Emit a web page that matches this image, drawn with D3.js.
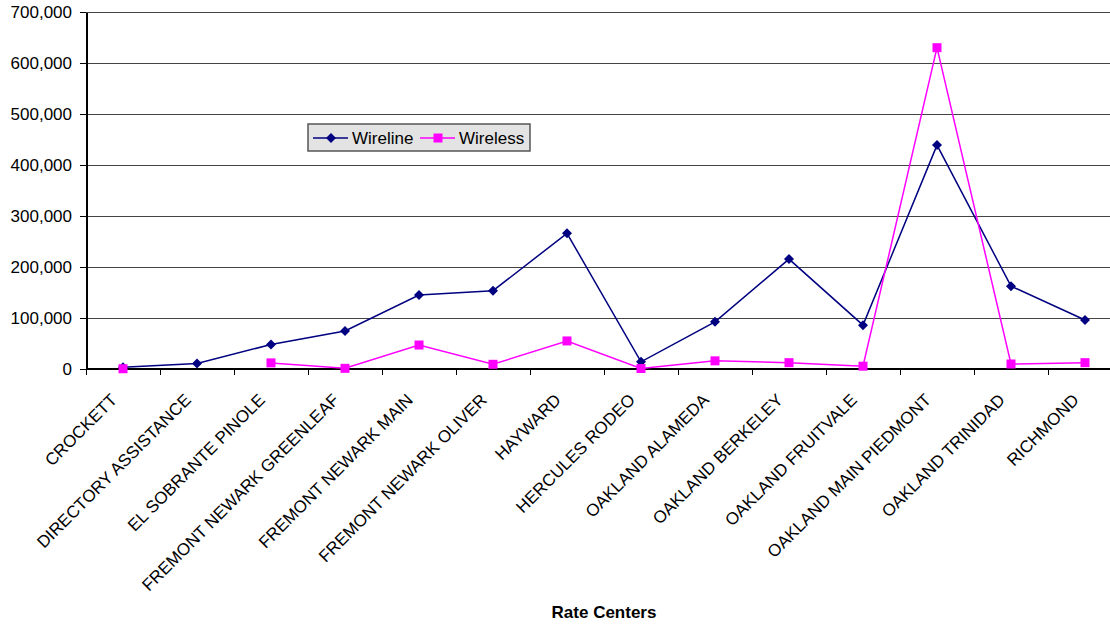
<!DOCTYPE html>
<meta charset="utf-8">
<style>
body { margin: 0; background: #fff; }
text { font-family: Arial, "Liberation Sans", sans-serif; fill: #000; }
.grid line { stroke: #444; stroke-width: 1px; shape-rendering: crispEdges; }
.axis path, .axis line { stroke: #000; shape-rendering: crispEdges; }
.wireline { fill: none; stroke: #000080; stroke-width: 1.5px; }
.wireless { fill: none; stroke: #ff00ff; stroke-width: 1.5px; }
</style>
<body>
<script src="https://d3js.org/d3.v7.min.js"></script>
<script>

// rate centers along the x axis
var centers = ["CROCKETT", "DIRECTORY ASSISTANCE", "EL SOBRANTE PINOLE",
  "FREMONT NEWARK GREENLEAF", "FREMONT NEWARK MAIN", "FREMONT NEWARK OLIVER",
  "HAYWARD", "HERCULES RODEO", "OAKLAND ALAMEDA", "OAKLAND BERKELEY",
  "OAKLAND FRUITVALE", "OAKLAND MAIN PIEDMONT", "OAKLAND TRINIDAD", "RICHMOND"];

// values
var wireline = [3300, 11000, 48000, 74500, 145000, 153500, 266000, 14000,
  92500, 215500, 86000, 439000, 162500, 96000];
var wireless = [500, null, 12000, 1300, 47000, 9200, 55000, 1000,
  16000, 12400, 5500, 630000, 9800, 12400];

var yTicks = [0, 100000, 200000, 300000, 400000, 500000, 600000, 700000];

var margin = {top: 12, left: 86},
    width = 74 * centers.length,   // plot runs past the right edge, as in the original
    height = 357;

var svg = d3.select("body").append("svg")
    .attr("width", 1110)
    .attr("height", 624)
  .append("g")
    .attr("transform", "translate(" + margin.left + "," + margin.top + ")");

var x = d3.scaleBand().domain(centers).range([0, width]);
var y = d3.scaleLinear().domain([0, 700000]).range([height, 0]);

function cx(i) { return x(centers[i]) + x.bandwidth() / 2; }

// horizontal gridlines
svg.append("g")
    .attr("class", "grid")
  .selectAll("line")
  .data(yTicks)
  .enter().append("line")
    .attr("x1", 0)
    .attr("x2", width)
    .attr("y1", function(d) { return y(d); })
    .attr("y2", function(d) { return y(d); });

// Y axis
var yAxis = svg.append("g")
    .attr("class", "axis")
    .call(d3.axisLeft(y).tickValues(yTicks).tickSize(6).tickSizeOuter(0)
      .tickFormat(d3.format(",")));
yAxis.select(".domain").attr("stroke-width", 2);
yAxis.selectAll("text")
    .attr("x", -14)
    .style("font-size", "17px")
    .style("font-family", "Arial, 'Liberation Sans', sans-serif");

// X axis line and the ticks between categories
var xAxis = svg.append("g").attr("class", "axis");
xAxis.append("line")
    .attr("x1", 0).attr("x2", width)
    .attr("y1", height).attr("y2", height)
    .attr("stroke-width", 2.5);
xAxis.selectAll(".tick")
  .data(centers)
  .enter().append("line")
    .attr("class", "tick")
    .attr("x1", function(d) { return x(d); })
    .attr("x2", function(d) { return x(d); })
    .attr("y1", height)
    .attr("y2", height + 6);

// rotated category labels
svg.append("g").selectAll("text")
  .data(centers)
  .enter().append("text")
    .attr("transform", function(d) {
      return "translate(" + (x(d) + x.bandwidth() / 2 - 5) + "," + (height + 32) + ") rotate(-45)";
    })
    .attr("text-anchor", "end")
    .style("font-size", "17px")
    .text(function(d) { return d; });

// axis title
svg.append("text")
    .attr("x", 604 - margin.left)
    .attr("y", 618 - margin.top)
    .attr("text-anchor", "middle")
    .style("font-size", "17px")
    .style("font-weight", "bold")
    .text("Rate Centers");

// series lines
var lineFor = function(vals) {
  return d3.line()
    .defined(function(i) { return vals[i] != null; })
    .x(function(i) { return cx(i); })
    .y(function(i) { return y(vals[i]); });
};
var idx = d3.range(centers.length);

svg.append("path")
    .datum(idx)
    .attr("class", "wireline")
    .attr("d", lineFor(wireline));

svg.append("path")
    .datum(idx)
    .attr("class", "wireless")
    .attr("d", lineFor(wireless));

var diamond = "M0,-5L5,0L0,5L-5,0Z";

svg.append("g").selectAll("path")
  .data(idx)
  .enter().append("path")
    .attr("d", diamond)
    .attr("fill", "#000080")
    .attr("transform", function(i) { return "translate(" + cx(i) + "," + y(wireline[i]) + ")"; });

svg.append("g").selectAll("rect")
  .data(idx.filter(function(i) { return wireless[i] != null; }))
  .enter().append("rect")
    .attr("x", function(i) { return cx(i) - 4.5; })
    .attr("y", function(i) { return y(wireless[i]) - 4.5; })
    .attr("width", 9)
    .attr("height", 9)
    .attr("fill", "#ff00ff");

// legend
var legend = d3.select("svg").append("g")
    .attr("transform", "translate(308,124)");

legend.append("rect")
    .attr("width", 222)
    .attr("height", 27)
    .attr("fill", "#e3e3e3")
    .attr("stroke", "#555")
    .attr("stroke-width", 1.5);

var items = [
  {name: "Wireline", color: "#000080", x: 5},
  {name: "Wireless", color: "#ff00ff", x: 112}
];

items.forEach(function(it, k) {
  var lg = legend.append("g").attr("transform", "translate(" + it.x + ",14)");
  lg.append("line")
      .attr("x1", 0).attr("x2", 35)
      .attr("stroke", it.color)
      .attr("stroke-width", 1.5);
  if (k == 0) {
    lg.append("path").attr("d", diamond).attr("fill", it.color)
        .attr("transform", "translate(18,0)");
  } else {
    lg.append("rect").attr("x", 13.5).attr("y", -4.5)
        .attr("width", 9).attr("height", 9).attr("fill", it.color);
  }
  lg.append("text")
      .attr("x", 39)
      .attr("dy", "0.36em")
      .style("font-size", "17px")
      .text(it.name);
});

</script>
</body>
